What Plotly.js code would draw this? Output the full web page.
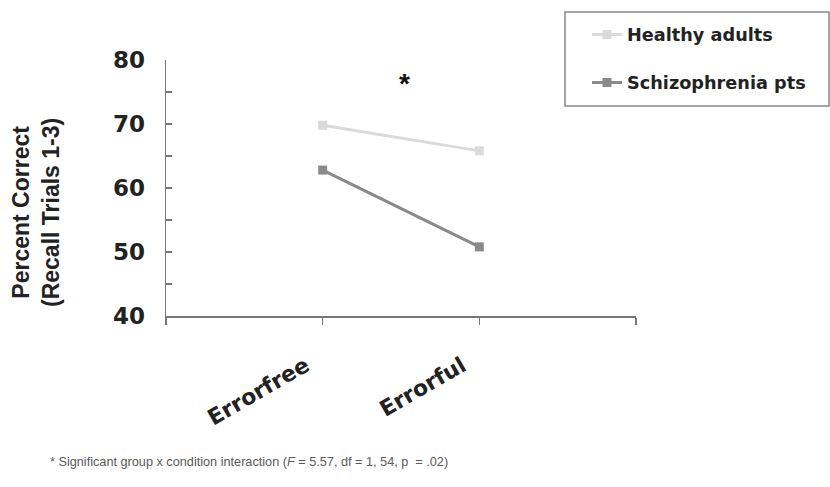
<!DOCTYPE html>
<html>
<head>
<meta charset="utf-8">
<script src="https://cdn.plot.ly/plotly-3.0.1.min.js"></script>
<style>html,body{margin:0;padding:0;background:#fff;}#chart{width:830px;height:487px;}</style>
</head>
<body>
<div id="chart"></div>
<script>
const categories = ['Errorfree', 'Errorful'];
const categoryPositions = [1, 2];
const healthyAdults = [69.8, 65.8];
const schizophreniaPts = [62.8, 50.8];
const seriesNames = ['Healthy adults', 'Schizophrenia pts'];
const yTicks = [40, 50, 60, 70, 80];

const F = 'Liberation Sans, Arial, sans-serif';
const FW = 'DejaVu Sans, Verdana, sans-serif';

const traces = [
  {
    x: categoryPositions, y: healthyAdults, name: seriesNames[0], type: 'scatter', mode: 'lines+markers',
    line: {color: '#dadada', width: 3}, marker: {symbol: 'square', size: 9, color: '#dadada'},
    legendgroup: 'a'
  },
  {
    x: categoryPositions, y: schizophreniaPts, name: seriesNames[1], type: 'scatter', mode: 'lines+markers',
    line: {color: '#8a8a8a', width: 3}, marker: {symbol: 'square', size: 9, color: '#8a8a8a'},
    legendgroup: 'b'
  }
];

const px = v => (v - 166) / 470;   // pixel -> paper x
const py = v => (316 - v) / 256;   // pixel -> paper y

const layout = {
  width: 830, height: 487,
  margin: {l: 166, r: 194, t: 60, b: 171},
  paper_bgcolor: '#fff', plot_bgcolor: '#fff',
  showlegend: true,
  legend: {
    x: px(587), y: py(16.5), xanchor: 'left', yanchor: 'top',
    borderwidth: 0, bgcolor: 'rgba(0,0,0,0)',
    font: {family: FW, size: 17.7, color: '#222', weight: 'bold'},
    tracegroupgap: 22
  },
  shapes: [
    {type: 'rect', xref: 'paper', yref: 'paper', x0: px(565), x1: px(829), y0: py(106), y1: py(12),
     line: {color: '#888', width: 1.5}, fillcolor: 'rgba(0,0,0,0)', layer: 'below'}
  ],
  xaxis: {
    range: [0, 3],
    tickvals: [0].concat(categoryPositions, [3]),
    ticktext: [''].concat(categories, ['']),
    tickangle: -30,
    ticks: 'outside', ticklen: 7, tickcolor: '#777', tickwidth: 1.5,
    showline: true, linecolor: '#777', linewidth: 1.5,
    showgrid: false, zeroline: false,
    ticklabelstandoff: 20, ticklabelshift: -17,
    tickfont: {family: FW, size: 22, color: '#222', weight: 'bold'}
  },
  yaxis: {
    range: [40, 80],
    tickvals: yTicks,
    ticks: 'inside', ticklen: 6, tickcolor: '#777', tickwidth: 1.5,
    minor: {dtick: 5, ticks: 'inside', ticklen: 6, tickcolor: '#777', tickwidth: 1.5, showgrid: false},
    showline: true, linecolor: '#777', linewidth: 1.5,
    showgrid: false, zeroline: false,
    ticklabelstandoff: 15,
    tickfont: {family: FW, size: 23, color: '#222', weight: 'bold'}
  },
  annotations: [
    {
      text: 'Percent Correct<br>(Recall Trials 1-3)', textangle: -90,
      xref: 'paper', yref: 'paper', x: px(36), y: py(213), xanchor: 'center', yanchor: 'middle',
      showarrow: false, font: {family: F, size: 23, color: '#222', weight: 'bold'}
    },
    {
      text: '*', xref: 'x', yref: 'y', x: 1.52, y: 76.3, showarrow: false,
      font: {family: F, size: 28, color: '#111', weight: 'bold'}
    },
    {
      text: '* Significant group x condition interaction (<i>F</i> = 5.57, df = 1, 54, p  = .02)',
      xref: 'paper', yref: 'paper', x: px(48), y: py(462),
      xanchor: 'left', yanchor: 'middle', showarrow: false,
      font: {family: F, size: 12.7, color: '#5a5a5a'}
    }
  ]
};

Plotly.newPlot('chart', traces, layout, {displayModeBar: false, staticPlot: true});
</script>
</body>
</html>
